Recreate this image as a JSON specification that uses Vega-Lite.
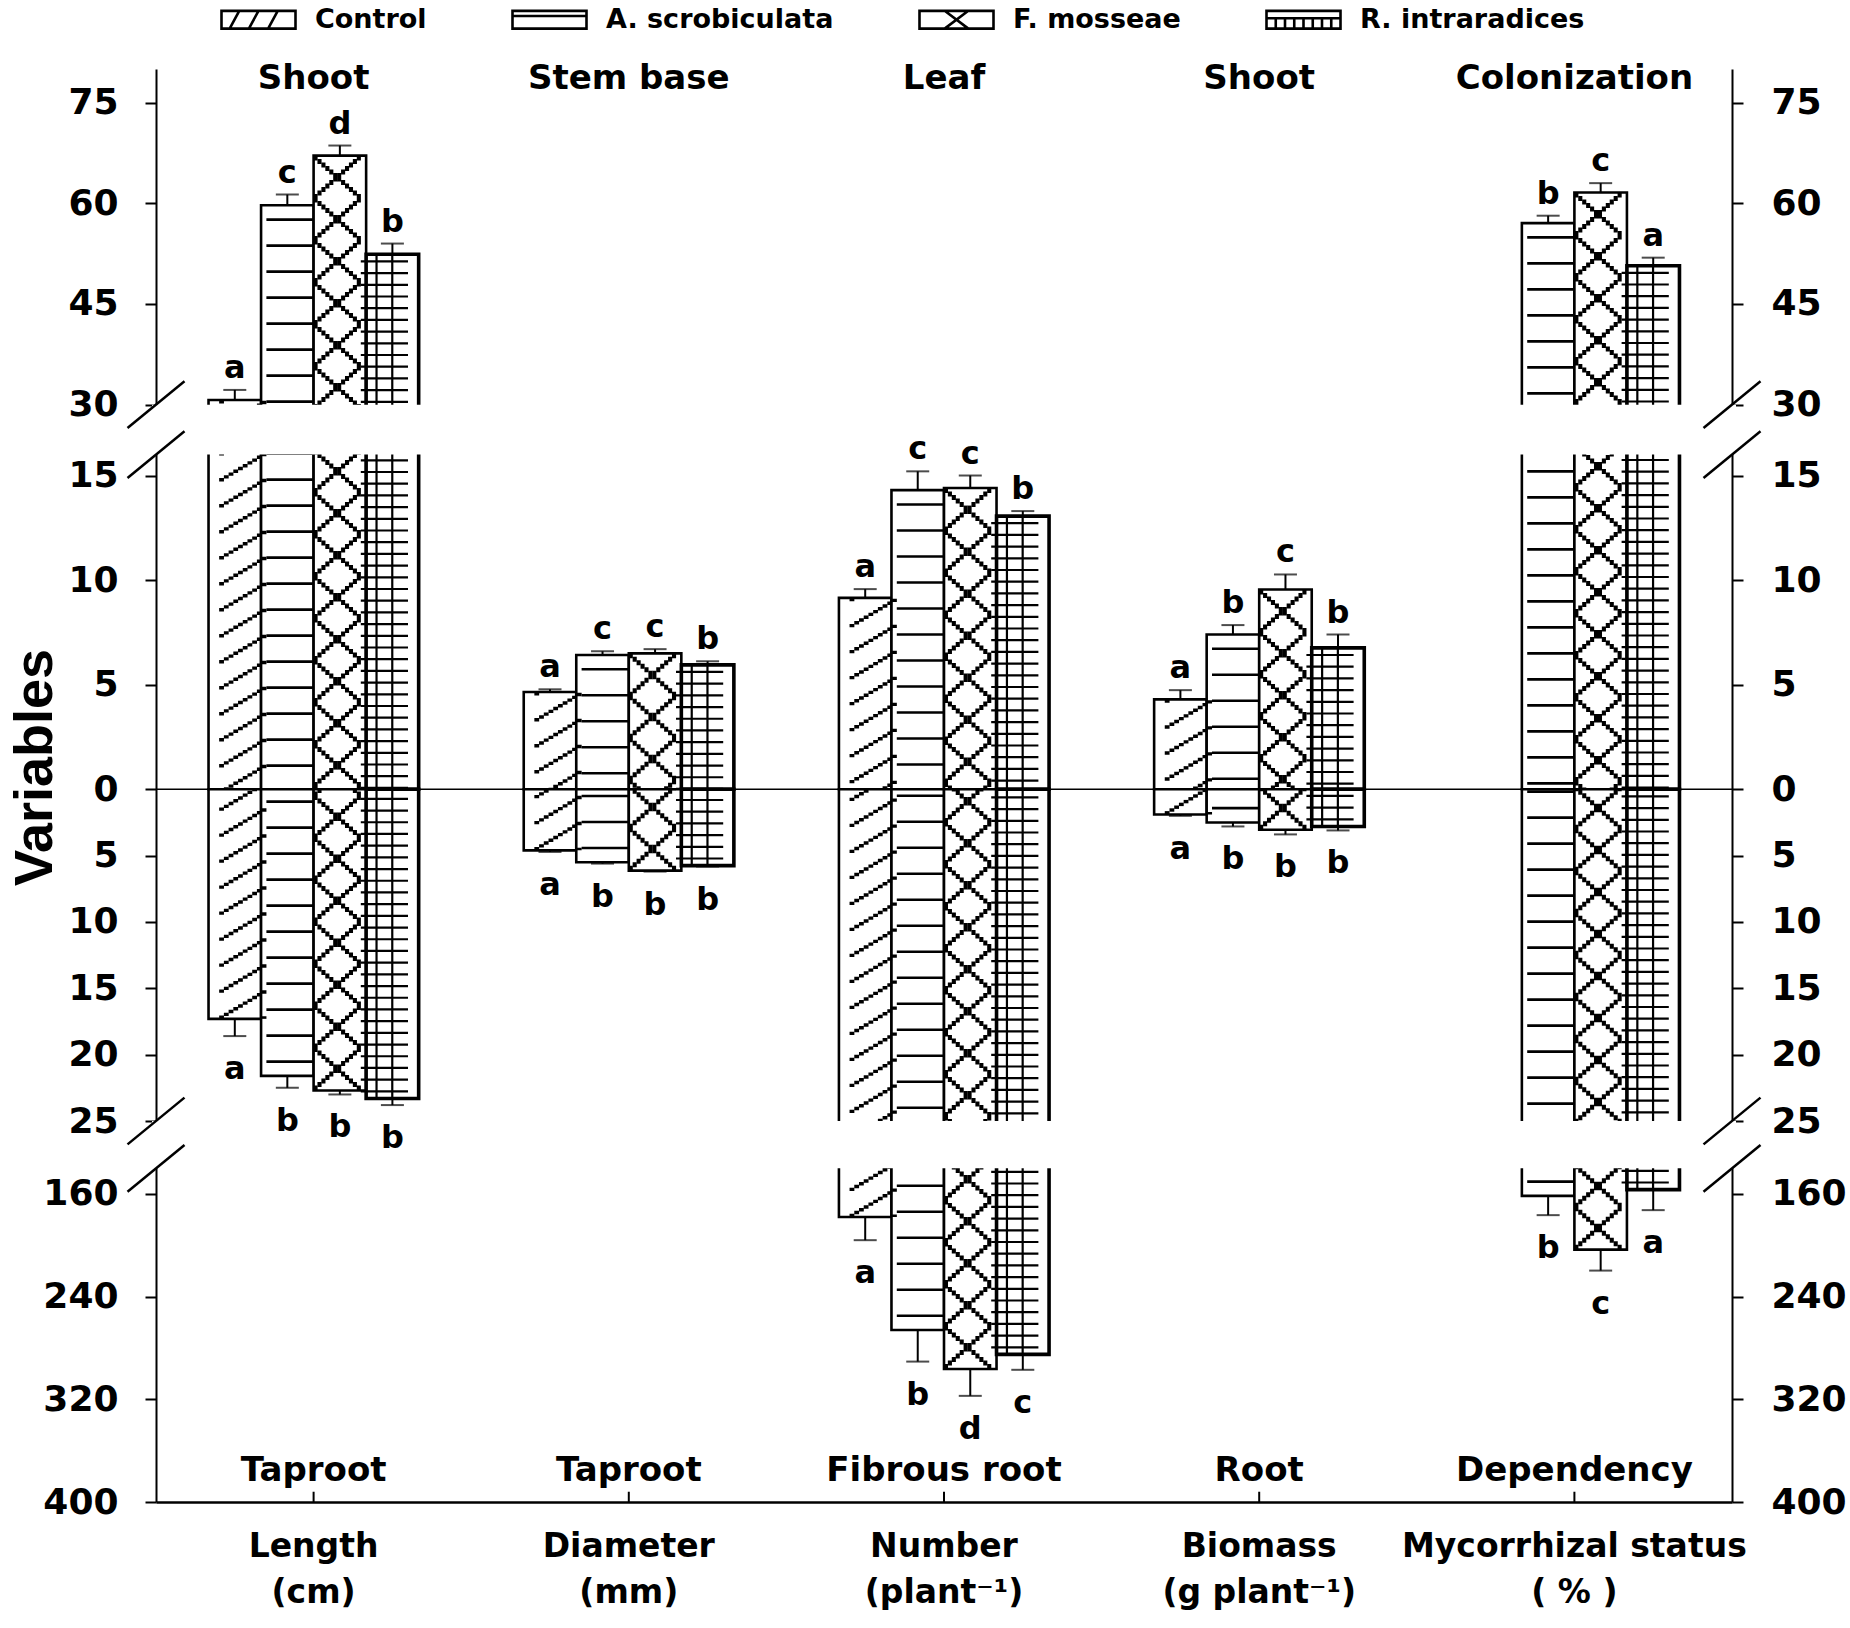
{
"$schema": "https://vega.github.io/schema/vega-lite/v6.json",
"width": 1576, "height": 1433,
"autosize": {"type": "none"},
"padding": {"left": 156, "top": 69, "right": 118, "bottom": 126},
"background": "white",
"config": {"view": {"stroke": null}, "axis": {"domainColor": "black", "domainWidth": 2, "tickColor": "black", "tickWidth": 2, "labelColor": "black", "labelFont": "DejaVu Sans", "labelFontWeight": "bold", "grid": false, "titleColor": "black"}},
"data": {"values": [
{"var":"Length","organ":"Shoot","trt":"Control","value":30.7,"err_end":32.2,"letter":"a"},
{"var":"Length","organ":"Shoot","trt":"A. scrobiculata","value":59.7,"err_end":61.3,"letter":"c"},
{"var":"Length","organ":"Shoot","trt":"F. mosseae","value":67.1,"err_end":68.6,"letter":"d"},
{"var":"Length","organ":"Shoot","trt":"R. intraradices","value":52.4,"err_end":54.0,"letter":"b"},
{"var":"Length","organ":"Taproot","trt":"Control","value":-17.3,"err_end":-18.6,"letter":"a"},
{"var":"Length","organ":"Taproot","trt":"A. scrobiculata","value":-21.6,"err_end":-22.5,"letter":"b"},
{"var":"Length","organ":"Taproot","trt":"F. mosseae","value":-22.7,"err_end":-23.0,"letter":"b"},
{"var":"Length","organ":"Taproot","trt":"R. intraradices","value":-23.3,"err_end":-23.8,"letter":"b"},
{"var":"Diameter","organ":"Stem base","trt":"Control","value":4.65,"err_end":4.78,"letter":"a"},
{"var":"Diameter","organ":"Stem base","trt":"A. scrobiculata","value":6.42,"err_end":6.6,"letter":"c"},
{"var":"Diameter","organ":"Stem base","trt":"F. mosseae","value":6.5,"err_end":6.7,"letter":"c"},
{"var":"Diameter","organ":"Stem base","trt":"R. intraradices","value":5.95,"err_end":6.12,"letter":"b"},
{"var":"Diameter","organ":"Taproot","trt":"Control","value":-4.6,"err_end":-4.72,"letter":"a"},
{"var":"Diameter","organ":"Taproot","trt":"A. scrobiculata","value":-5.5,"err_end":-5.6,"letter":"b"},
{"var":"Diameter","organ":"Taproot","trt":"F. mosseae","value":-6.13,"err_end":-6.2,"letter":"b"},
{"var":"Diameter","organ":"Taproot","trt":"R. intraradices","value":-5.75,"err_end":-5.82,"letter":"b"},
{"var":"Number","organ":"Leaf","trt":"Control","value":9.15,"err_end":9.57,"letter":"a"},
{"var":"Number","organ":"Leaf","trt":"A. scrobiculata","value":14.3,"err_end":15.2,"letter":"c"},
{"var":"Number","organ":"Leaf","trt":"F. mosseae","value":14.4,"err_end":15.0,"letter":"c"},
{"var":"Number","organ":"Leaf","trt":"R. intraradices","value":13.06,"err_end":13.3,"letter":"b"},
{"var":"Number","organ":"Fibrous root","trt":"Control","value":-178,"err_end":-196,"letter":"a"},
{"var":"Number","organ":"Fibrous root","trt":"A. scrobiculata","value":-266,"err_end":-290.6,"letter":"b"},
{"var":"Number","organ":"Fibrous root","trt":"F. mosseae","value":-296.4,"err_end":-317.3,"letter":"d"},
{"var":"Number","organ":"Fibrous root","trt":"R. intraradices","value":-285,"err_end":-297,"letter":"c"},
{"var":"Biomass","organ":"Shoot","trt":"Control","value":4.3,"err_end":4.74,"letter":"a"},
{"var":"Biomass","organ":"Shoot","trt":"A. scrobiculata","value":7.4,"err_end":7.85,"letter":"b"},
{"var":"Biomass","organ":"Shoot","trt":"F. mosseae","value":9.55,"err_end":10.27,"letter":"c"},
{"var":"Biomass","organ":"Shoot","trt":"R. intraradices","value":6.76,"err_end":7.4,"letter":"b"},
{"var":"Biomass","organ":"Root","trt":"Control","value":-1.9,"err_end":-2.0,"letter":"a"},
{"var":"Biomass","organ":"Root","trt":"A. scrobiculata","value":-2.5,"err_end":-2.8,"letter":"b"},
{"var":"Biomass","organ":"Root","trt":"F. mosseae","value":-3.05,"err_end":-3.4,"letter":"b"},
{"var":"Biomass","organ":"Root","trt":"R. intraradices","value":-2.8,"err_end":-3.1,"letter":"b"},
{"var":"Mycorrhizal status","organ":"Colonization","trt":"A. scrobiculata","value":57.05,"err_end":58.15,"letter":"b"},
{"var":"Mycorrhizal status","organ":"Colonization","trt":"F. mosseae","value":61.6,"err_end":63.0,"letter":"c"},
{"var":"Mycorrhizal status","organ":"Colonization","trt":"R. intraradices","value":50.7,"err_end":51.9,"letter":"a"},
{"var":"Mycorrhizal status","organ":"Dependency","trt":"A. scrobiculata","value":-161.5,"err_end":-176.5,"letter":"b"},
{"var":"Mycorrhizal status","organ":"Dependency","trt":"F. mosseae","value":-203.4,"err_end":-219.7,"letter":"c"},
{"var":"Mycorrhizal status","organ":"Dependency","trt":"R. intraradices","value":-156.6,"err_end":-172.6,"letter":"a"}
]},
"resolve": {"axis": {"x": "independent", "y": "independent"}},
"layer": [
{"mark": {"type": "bar", "fill": "white", "stroke": "black"},
 "encoding": {
  "x": {"field": "var", "type": "nominal", "scale": {"domain": ["Length","Diameter","Number","Biomass","Mycorrhizal status"], "paddingInner": 0, "paddingOuter": 0}, "axis": null},
  "xOffset": {"field": "trt", "type": "nominal", "scale": {"domain": ["Control","A. scrobiculata","F. mosseae","R. intraradices"], "paddingInner": 0, "paddingOuter": 1.339}},
  "y": {"field": "value", "type": "quantitative", "scale": {"domain": [-400,-140,-25,0,16,30,80], "range": [1433,1099.3,1052,720.3,385.6,335.7,0], "nice": false, "zero": false},
        "axis": {"orient": "left", "values": [75,60,45,30,15,10,5,0,-5,-10,-15,-20,-25,-160,-240,-320,-400], "labelExpr": "abs(datum.value)", "labelFontSize": 36, "labelPadding": 27, "tickSize": 11, "labelOverlap": false, "title": "Variables", "titleFont": "Liberation Sans Narrow, Liberation Sans", "titleFontSize": 54, "titleFontWeight": "bold", "titleAngle": 270, "titleX": -121, "titleY": 698, "titleAlign": "center", "titleBaseline": "middle"}},
  "y2": {"datum": 0},
  "strokeWidth": {"condition": {"test": "datum.trt == 'R. intraradices'", "value": 3.6}, "value": 2.6}
 }},
{"transform": [{"filter": "datum.trt == 'A. scrobiculata'"}], "mark": {"type": "rule", "stroke": "black", "strokeWidth": 47.2, "strokeDash": [2.6, 23.4], "strokeDashOffset": -13}, "encoding": {"x": {"field": "var", "type": "nominal", "bandPosition": 0.42513, "axis": null}, "y": {"field": "value", "type": "quantitative", "axis": null}, "y2": {"datum": 0}}},
{"transform": [{"filter": "datum.trt == 'R. intraradices'"}], "mark": {"type": "rule", "stroke": "black", "strokeWidth": 47.2, "strokeDash": [2.2, 9.5], "strokeDashOffset": -6}, "encoding": {"x": {"field": "var", "type": "nominal", "bandPosition": 0.72462, "axis": null}, "y": {"field": "value", "type": "quantitative", "axis": null}, "y2": {"datum": 0}}},
{"transform": [{"filter": "datum.trt == 'R. intraradices'"}], "mark": {"type": "rule", "stroke": "black", "strokeWidth": 2.2}, "encoding": {"x": {"field": "var", "type": "nominal", "bandPosition": 0.69966, "axis": null}, "y": {"field": "value", "type": "quantitative", "axis": null}, "y2": {"datum": 0}}},
{"transform": [{"filter": "datum.trt == 'R. intraradices'"}], "mark": {"type": "rule", "stroke": "black", "strokeWidth": 2.2}, "encoding": {"x": {"field": "var", "type": "nominal", "bandPosition": 0.74958, "axis": null}, "y": {"field": "value", "type": "quantitative", "axis": null}, "y2": {"datum": 0}}},
{"transform": [{"filter": "datum.trt == 'Control' && datum.value > 0"}], "mark": {"type": "rule", "stroke": "black", "strokeWidth": 4.8, "strokeDash": [3.4, 22.6], "strokeDashOffset": 0}, "encoding": {"x": {"field": "var", "type": "nominal", "bandPosition": 0.20799, "axis": null}, "y": {"field": "value", "type": "quantitative", "axis": null}, "y2": {"datum": 0}}},
{"transform": [{"filter": "datum.trt == 'Control' && datum.value > 0"}], "mark": {"type": "rule", "stroke": "black", "strokeWidth": 4.8, "strokeDash": [3.4, 22.6], "strokeDashOffset": 2.8}, "encoding": {"x": {"field": "var", "type": "nominal", "bandPosition": 0.22297, "axis": null}, "y": {"field": "value", "type": "quantitative", "axis": null}, "y2": {"datum": 0}}},
{"transform": [{"filter": "datum.trt == 'Control' && datum.value > 0"}], "mark": {"type": "rule", "stroke": "black", "strokeWidth": 4.8, "strokeDash": [3.4, 22.6], "strokeDashOffset": 5.6}, "encoding": {"x": {"field": "var", "type": "nominal", "bandPosition": 0.23795, "axis": null}, "y": {"field": "value", "type": "quantitative", "axis": null}, "y2": {"datum": 0}}},
{"transform": [{"filter": "datum.trt == 'Control' && datum.value > 0"}], "mark": {"type": "rule", "stroke": "black", "strokeWidth": 4.8, "strokeDash": [3.4, 22.6], "strokeDashOffset": 8.4}, "encoding": {"x": {"field": "var", "type": "nominal", "bandPosition": 0.25292, "axis": null}, "y": {"field": "value", "type": "quantitative", "axis": null}, "y2": {"datum": 0}}},
{"transform": [{"filter": "datum.trt == 'Control' && datum.value > 0"}], "mark": {"type": "rule", "stroke": "black", "strokeWidth": 4.8, "strokeDash": [3.4, 22.6], "strokeDashOffset": 11.2}, "encoding": {"x": {"field": "var", "type": "nominal", "bandPosition": 0.26789, "axis": null}, "y": {"field": "value", "type": "quantitative", "axis": null}, "y2": {"datum": 0}}},
{"transform": [{"filter": "datum.trt == 'Control' && datum.value > 0"}], "mark": {"type": "rule", "stroke": "black", "strokeWidth": 4.8, "strokeDash": [3.4, 22.6], "strokeDashOffset": 14}, "encoding": {"x": {"field": "var", "type": "nominal", "bandPosition": 0.28287, "axis": null}, "y": {"field": "value", "type": "quantitative", "axis": null}, "y2": {"datum": 0}}},
{"transform": [{"filter": "datum.trt == 'Control' && datum.value > 0"}], "mark": {"type": "rule", "stroke": "black", "strokeWidth": 4.8, "strokeDash": [3.4, 22.6], "strokeDashOffset": 16.8}, "encoding": {"x": {"field": "var", "type": "nominal", "bandPosition": 0.29784, "axis": null}, "y": {"field": "value", "type": "quantitative", "axis": null}, "y2": {"datum": 0}}},
{"transform": [{"filter": "datum.trt == 'Control' && datum.value > 0"}], "mark": {"type": "rule", "stroke": "black", "strokeWidth": 4.8, "strokeDash": [3.4, 22.6], "strokeDashOffset": 19.6}, "encoding": {"x": {"field": "var", "type": "nominal", "bandPosition": 0.31282, "axis": null}, "y": {"field": "value", "type": "quantitative", "axis": null}, "y2": {"datum": 0}}},
{"transform": [{"filter": "datum.trt == 'Control' && datum.value > 0"}], "mark": {"type": "rule", "stroke": "black", "strokeWidth": 4.8, "strokeDash": [3.4, 22.6], "strokeDashOffset": 22.4}, "encoding": {"x": {"field": "var", "type": "nominal", "bandPosition": 0.32779, "axis": null}, "y": {"field": "value", "type": "quantitative", "axis": null}, "y2": {"datum": 0}}},
{"transform": [{"filter": "datum.trt == 'Control' && datum.value > 0"}], "mark": {"type": "rule", "stroke": "black", "strokeWidth": 4.8, "strokeDash": [3.4, 22.6], "strokeDashOffset": 25.2}, "encoding": {"x": {"field": "var", "type": "nominal", "bandPosition": 0.34277, "axis": null}, "y": {"field": "value", "type": "quantitative", "axis": null}, "y2": {"datum": 0}}},
{"transform": [{"filter": "datum.trt == 'Control' && datum.value < 0"}], "mark": {"type": "rule", "stroke": "black", "strokeWidth": 4.8, "strokeDash": [3.4, 22.6], "strokeDashOffset": 0}, "encoding": {"x": {"field": "var", "type": "nominal", "bandPosition": 0.20799, "axis": null}, "y": {"field": "value", "type": "quantitative", "axis": null}, "y2": {"datum": 0}}},
{"transform": [{"filter": "datum.trt == 'Control' && datum.value < 0"}], "mark": {"type": "rule", "stroke": "black", "strokeWidth": 4.8, "strokeDash": [3.4, 22.6], "strokeDashOffset": 23.2}, "encoding": {"x": {"field": "var", "type": "nominal", "bandPosition": 0.22297, "axis": null}, "y": {"field": "value", "type": "quantitative", "axis": null}, "y2": {"datum": 0}}},
{"transform": [{"filter": "datum.trt == 'Control' && datum.value < 0"}], "mark": {"type": "rule", "stroke": "black", "strokeWidth": 4.8, "strokeDash": [3.4, 22.6], "strokeDashOffset": 20.4}, "encoding": {"x": {"field": "var", "type": "nominal", "bandPosition": 0.23795, "axis": null}, "y": {"field": "value", "type": "quantitative", "axis": null}, "y2": {"datum": 0}}},
{"transform": [{"filter": "datum.trt == 'Control' && datum.value < 0"}], "mark": {"type": "rule", "stroke": "black", "strokeWidth": 4.8, "strokeDash": [3.4, 22.6], "strokeDashOffset": 17.6}, "encoding": {"x": {"field": "var", "type": "nominal", "bandPosition": 0.25292, "axis": null}, "y": {"field": "value", "type": "quantitative", "axis": null}, "y2": {"datum": 0}}},
{"transform": [{"filter": "datum.trt == 'Control' && datum.value < 0"}], "mark": {"type": "rule", "stroke": "black", "strokeWidth": 4.8, "strokeDash": [3.4, 22.6], "strokeDashOffset": 14.8}, "encoding": {"x": {"field": "var", "type": "nominal", "bandPosition": 0.26789, "axis": null}, "y": {"field": "value", "type": "quantitative", "axis": null}, "y2": {"datum": 0}}},
{"transform": [{"filter": "datum.trt == 'Control' && datum.value < 0"}], "mark": {"type": "rule", "stroke": "black", "strokeWidth": 4.8, "strokeDash": [3.4, 22.6], "strokeDashOffset": 12}, "encoding": {"x": {"field": "var", "type": "nominal", "bandPosition": 0.28287, "axis": null}, "y": {"field": "value", "type": "quantitative", "axis": null}, "y2": {"datum": 0}}},
{"transform": [{"filter": "datum.trt == 'Control' && datum.value < 0"}], "mark": {"type": "rule", "stroke": "black", "strokeWidth": 4.8, "strokeDash": [3.4, 22.6], "strokeDashOffset": 9.2}, "encoding": {"x": {"field": "var", "type": "nominal", "bandPosition": 0.29784, "axis": null}, "y": {"field": "value", "type": "quantitative", "axis": null}, "y2": {"datum": 0}}},
{"transform": [{"filter": "datum.trt == 'Control' && datum.value < 0"}], "mark": {"type": "rule", "stroke": "black", "strokeWidth": 4.8, "strokeDash": [3.4, 22.6], "strokeDashOffset": 6.4}, "encoding": {"x": {"field": "var", "type": "nominal", "bandPosition": 0.31282, "axis": null}, "y": {"field": "value", "type": "quantitative", "axis": null}, "y2": {"datum": 0}}},
{"transform": [{"filter": "datum.trt == 'Control' && datum.value < 0"}], "mark": {"type": "rule", "stroke": "black", "strokeWidth": 4.8, "strokeDash": [3.4, 22.6], "strokeDashOffset": 3.6}, "encoding": {"x": {"field": "var", "type": "nominal", "bandPosition": 0.32779, "axis": null}, "y": {"field": "value", "type": "quantitative", "axis": null}, "y2": {"datum": 0}}},
{"transform": [{"filter": "datum.trt == 'Control' && datum.value < 0"}], "mark": {"type": "rule", "stroke": "black", "strokeWidth": 4.8, "strokeDash": [3.4, 22.6], "strokeDashOffset": 0.8}, "encoding": {"x": {"field": "var", "type": "nominal", "bandPosition": 0.34277, "axis": null}, "y": {"field": "value", "type": "quantitative", "axis": null}, "y2": {"datum": 0}}},
{"transform": [{"filter": "datum.trt == 'F. mosseae'"}], "mark": {"type": "rule", "stroke": "black", "strokeWidth": 4.1, "strokeDash": [8.5, 33.5], "strokeDashOffset": 3.5}, "encoding": {"x": {"field": "var", "type": "nominal", "bandPosition": 0.50624, "axis": null}, "y": {"field": "value", "type": "quantitative", "axis": null}, "y2": {"datum": 0}}},
{"transform": [{"filter": "datum.trt == 'F. mosseae'"}], "mark": {"type": "rule", "stroke": "black", "strokeWidth": 4.1, "strokeDash": [5, 26.5, 5, 5.5], "strokeDashOffset": 38.5}, "encoding": {"x": {"field": "var", "type": "nominal", "bandPosition": 0.51872, "axis": null}, "y": {"field": "value", "type": "quantitative", "axis": null}, "y2": {"datum": 0}}},
{"transform": [{"filter": "datum.trt == 'F. mosseae'"}], "mark": {"type": "rule", "stroke": "black", "strokeWidth": 4.1, "strokeDash": [5, 19.5, 5, 12.5], "strokeDashOffset": 35}, "encoding": {"x": {"field": "var", "type": "nominal", "bandPosition": 0.53120, "axis": null}, "y": {"field": "value", "type": "quantitative", "axis": null}, "y2": {"datum": 0}}},
{"transform": [{"filter": "datum.trt == 'F. mosseae'"}], "mark": {"type": "rule", "stroke": "black", "strokeWidth": 4.1, "strokeDash": [5, 12.5, 5, 19.5], "strokeDashOffset": 31.5}, "encoding": {"x": {"field": "var", "type": "nominal", "bandPosition": 0.54368, "axis": null}, "y": {"field": "value", "type": "quantitative", "axis": null}, "y2": {"datum": 0}}},
{"transform": [{"filter": "datum.trt == 'F. mosseae'"}], "mark": {"type": "rule", "stroke": "black", "strokeWidth": 4.1, "strokeDash": [5, 5.5, 5, 26.5], "strokeDashOffset": 28}, "encoding": {"x": {"field": "var", "type": "nominal", "bandPosition": 0.55615, "axis": null}, "y": {"field": "value", "type": "quantitative", "axis": null}, "y2": {"datum": 0}}},
{"transform": [{"filter": "datum.trt == 'F. mosseae'"}], "mark": {"type": "rule", "stroke": "black", "strokeWidth": 4.1, "strokeDash": [8.5, 33.5], "strokeDashOffset": 24.5}, "encoding": {"x": {"field": "var", "type": "nominal", "bandPosition": 0.56863, "axis": null}, "y": {"field": "value", "type": "quantitative", "axis": null}, "y2": {"datum": 0}}},
{"transform": [{"filter": "datum.trt == 'F. mosseae'"}], "mark": {"type": "rule", "stroke": "black", "strokeWidth": 4.1, "strokeDash": [8.5, 33.5], "strokeDashOffset": 24.5}, "encoding": {"x": {"field": "var", "type": "nominal", "bandPosition": 0.58111, "axis": null}, "y": {"field": "value", "type": "quantitative", "axis": null}, "y2": {"datum": 0}}},
{"transform": [{"filter": "datum.trt == 'F. mosseae'"}], "mark": {"type": "rule", "stroke": "black", "strokeWidth": 4.1, "strokeDash": [5, 5.5, 5, 26.5], "strokeDashOffset": 28}, "encoding": {"x": {"field": "var", "type": "nominal", "bandPosition": 0.59359, "axis": null}, "y": {"field": "value", "type": "quantitative", "axis": null}, "y2": {"datum": 0}}},
{"transform": [{"filter": "datum.trt == 'F. mosseae'"}], "mark": {"type": "rule", "stroke": "black", "strokeWidth": 4.1, "strokeDash": [5, 12.5, 5, 19.5], "strokeDashOffset": 31.5}, "encoding": {"x": {"field": "var", "type": "nominal", "bandPosition": 0.60607, "axis": null}, "y": {"field": "value", "type": "quantitative", "axis": null}, "y2": {"datum": 0}}},
{"transform": [{"filter": "datum.trt == 'F. mosseae'"}], "mark": {"type": "rule", "stroke": "black", "strokeWidth": 4.1, "strokeDash": [5, 19.5, 5, 12.5], "strokeDashOffset": 35}, "encoding": {"x": {"field": "var", "type": "nominal", "bandPosition": 0.61855, "axis": null}, "y": {"field": "value", "type": "quantitative", "axis": null}, "y2": {"datum": 0}}},
{"transform": [{"filter": "datum.trt == 'F. mosseae'"}], "mark": {"type": "rule", "stroke": "black", "strokeWidth": 4.1, "strokeDash": [5, 26.5, 5, 5.5], "strokeDashOffset": 38.5}, "encoding": {"x": {"field": "var", "type": "nominal", "bandPosition": 0.63103, "axis": null}, "y": {"field": "value", "type": "quantitative", "axis": null}, "y2": {"datum": 0}}},
{"transform": [{"filter": "datum.trt == 'F. mosseae'"}], "mark": {"type": "rule", "stroke": "black", "strokeWidth": 4.1, "strokeDash": [8.5, 33.5], "strokeDashOffset": 3.5}, "encoding": {"x": {"field": "var", "type": "nominal", "bandPosition": 0.64351, "axis": null}, "y": {"field": "value", "type": "quantitative", "axis": null}, "y2": {"datum": 0}}},
{"data": {"values": [{}]}, "mark": {"type": "rule", "stroke": "black", "strokeWidth": 1.5},
 "encoding": {"y": {"datum": 0, "type": "quantitative", "axis": {"orient": "right", "values": [75,60,45,30,15,10,5,0,-5,-10,-15,-20,-25,-160,-240,-320,-400], "labelExpr": "abs(datum.value)", "labelFontSize": 36, "labelPadding": 28, "tickSize": 11, "labelOverlap": false, "title": null}}}},
{"mark": {"type": "rule", "stroke": "black", "strokeWidth": 2}, "encoding": {"x": {"field": "var", "type": "nominal", "axis": null}, "xOffset": {"field": "trt", "type": "nominal"}, "y": {"field": "value", "type": "quantitative", "axis": null}, "y2": {"field": "err_end"}}},
{"mark": {"type": "tick", "color": "black", "size": 23, "thickness": 2}, "encoding": {"x": {"field": "var", "type": "nominal", "axis": null}, "xOffset": {"field": "trt", "type": "nominal"}, "y": {"field": "err_end", "type": "quantitative", "axis": null}}},
{"data": {"values": [{}]}, "mark": {"type": "rect", "fill": "white", "xOffset": -4, "x2Offset": 4}, "encoding": {"x": {"value": 0}, "x2": {"value": "width"}, "y": {"datum": 16, "type": "quantitative", "axis": null}, "y2": {"datum": 30}}},
{"data": {"values": [{}]}, "mark": {"type": "rect", "fill": "white", "xOffset": -4, "x2Offset": 4}, "encoding": {"x": {"value": 0}, "x2": {"value": "width"}, "y": {"datum": -25, "type": "quantitative", "axis": null}, "y2": {"datum": -140}}},
{"data": {"values": [{"brk": 30}, {"brk": 16}, {"brk": -25}, {"brk": -140}]}, "mark": {"type": "point", "shape": "M -1 0.82 L 1 -0.82", "size": 3249, "filled": false, "stroke": "black", "strokeWidth": 2.5, "opacity": 1}, "encoding": {"x": {"value": 0}, "y": {"field": "brk", "type": "quantitative", "axis": null}}},
{"data": {"values": [{"brk": 30}, {"brk": 16}, {"brk": -25}, {"brk": -140}]}, "mark": {"type": "point", "shape": "M -1 0.82 L 1 -0.82", "size": 3249, "filled": false, "stroke": "black", "strokeWidth": 2.5, "opacity": 1}, "encoding": {"x": {"value": "width"}, "y": {"field": "brk", "type": "quantitative", "axis": null}}},
{"transform": [{"filter": "datum.value > 0"}], "mark": {"type": "text", "font": "DejaVu Sans", "fontWeight": "bold", "fontSize": 32, "baseline": "alphabetic", "dy": -12, "color": "black"}, "encoding": {"x": {"field": "var", "type": "nominal", "axis": null}, "xOffset": {"field": "trt", "type": "nominal"}, "y": {"field": "err_end", "type": "quantitative", "axis": null}, "text": {"field": "letter"}}},
{"transform": [{"filter": "datum.value < 0"}], "mark": {"type": "text", "font": "DejaVu Sans", "fontWeight": "bold", "fontSize": 32, "baseline": "top", "dy": 18, "color": "black"}, "encoding": {"x": {"field": "var", "type": "nominal", "axis": null}, "xOffset": {"field": "trt", "type": "nominal"}, "y": {"field": "err_end", "type": "quantitative", "axis": null}, "text": {"field": "letter"}}},
{"data": {"values": [{"var":"Length","upper":"Shoot","lower":"Taproot"},{"var":"Diameter","upper":"Stem base","lower":"Taproot"},{"var":"Number","upper":"Leaf","lower":"Fibrous root"},{"var":"Biomass","upper":"Shoot","lower":"Root"},{"var":"Mycorrhizal status","upper":"Colonization","lower":"Dependency"}]},
 "mark": {"type": "text", "font": "DejaVu Sans", "fontWeight": "bold", "fontSize": 34, "baseline": "middle", "color": "black"}, "encoding": {"x": {"field": "var", "type": "nominal", "axis": null}, "y": {"datum": 78.5, "type": "quantitative", "axis": null}, "text": {"field": "upper"}}},
{"data": {"values": [{"var":"Length","upper":"Shoot","lower":"Taproot"},{"var":"Diameter","upper":"Stem base","lower":"Taproot"},{"var":"Number","upper":"Leaf","lower":"Fibrous root"},{"var":"Biomass","upper":"Shoot","lower":"Root"},{"var":"Mycorrhizal status","upper":"Colonization","lower":"Dependency"}]},
 "mark": {"type": "text", "font": "DejaVu Sans", "fontWeight": "bold", "fontSize": 34, "baseline": "middle", "color": "black"},
 "encoding": {"x": {"field": "var", "type": "nominal", "axis": {"orient": "bottom", "title": null, "labelAngle": 0, "labelExpr": "datum.value == 'Length' ? ['Length', '(cm)'] : datum.value == 'Diameter' ? ['Diameter', '(mm)'] : datum.value == 'Number' ? ['Number', '(plant⁻¹)'] : datum.value == 'Biomass' ? ['Biomass', '(g plant⁻¹)'] : ['Mycorrhizal status', '( % )']", "labelFontSize": 33, "labelLineHeight": 46, "labelBaseline": "top", "labelPadding": 28, "ticks": false, "labelLimit": 600, "domainWidth": 2.5}},
  "y": {"datum": -376, "type": "quantitative", "axis": null}, "text": {"field": "lower"}}},
{"data": {"values": [{"var":"Length"},{"var":"Diameter"},{"var":"Number"},{"var":"Biomass"},{"var":"Mycorrhizal status"}]}, "mark": {"type": "rule", "stroke": "black", "strokeWidth": 2}, "encoding": {"x": {"field": "var", "type": "nominal", "axis": null}, "y": {"datum": -400, "type": "quantitative", "axis": null}, "y2": {"datum": -392}}},
{"mark": {"type": "point", "opacity": 0}, "encoding": {"x": {"field": "var", "type": "nominal", "axis": null}, "y": {"field": "value", "type": "quantitative", "axis": null},
  "shape": {"field": "trt", "type": "nominal", "scale": {"domain": ["Control","A. scrobiculata","F. mosseae","R. intraradices"], "range": ["M-1,-0.24H1V0.24H-1Z M-0.78,0.24L-0.52,-0.24 M-0.26,0.24L0,-0.24 M0.26,0.24L0.52,-0.24", "M-1,-0.24H1V0.24H-1Z M-1,-0.1H1", "M-1,-0.24H1V0.24H-1Z M-0.32,-0.24L0.32,0.24 M-0.32,0.24L0.32,-0.24", "M-1,-0.24H1V0.24H-1Z M-1,-0.04H1 M-0.75,-0.04V0.24 M-0.5,-0.04V0.24 M-0.25,-0.04V0.24 M0,-0.04V0.24 M0.25,-0.04V0.24 M0.5,-0.04V0.24 M0.75,-0.04V0.24"]},
   "legend": {"title": null, "orient": "none", "legendX": 64, "legendY": -88, "direction": "horizontal", "symbolSize": 5476, "symbolStrokeWidth": 2.6, "symbolFillColor": "white", "symbolStrokeColor": "black", "symbolOpacity": 1, "labelFont": "DejaVu Sans", "labelFontSize": 27, "labelFontWeight": "bold", "labelColor": "black", "labelOffset": 18, "labelLimit": 600, "columnPadding": 80, "padding": 0,
     "encode": {"labels": {"fontStyle": {"condition": {"test": "datum.value === 'Control'", "value": "normal"}, "value": "italic"}}, "symbols": {"opacity": {"value": 1}, "fill": {"value": "white"}, "stroke": {"value": "black"}, "strokeWidth": {"value": 2.6}}}}}}}
]
}
